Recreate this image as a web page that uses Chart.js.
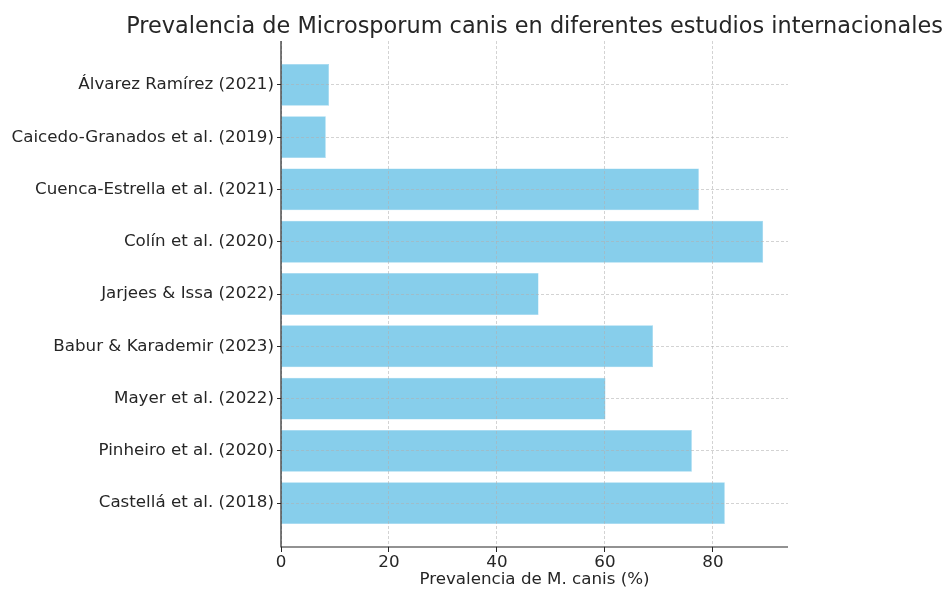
<!DOCTYPE html>
<html>
<head>
<meta charset="utf-8">
<script src="https://cdn.jsdelivr.net/npm/chart.js@4"></script>
<style>
  html, body { margin: 0; padding: 0; background: #fff; }
  #wrap { width: 945px; height: 590px; }
</style>
</head>
<body>
<div id="wrap"><canvas id="chart"></canvas></div>
<script>
// Data
const studies = [
    'Álvarez Ramírez (2021)',
    'Caicedo-Granados et al. (2019)',
    'Cuenca-Estrella et al. (2021)',
    'Colín et al. (2020)',
    'Jarjees & Issa (2022)',
    'Babur & Karademir (2023)',
    'Mayer et al. (2022)',
    'Pinheiro et al. (2020)',
    'Castellá et al. (2018)',
];
const prevalence = [8.9, 8.3, 77.4, 89.3, 47.7, 68.9, 60.1, 76.1, 82.2];
const xTicks = [0, 20, 40, 60, 80];

const chartTitle = 'Prevalencia de Microsporum canis en diferentes estudios internacionales';
const xTitle = 'Prevalencia de M. canis (%)';

const font = 'DejaVu Sans';
const textColor = '#262626';
const gridColor = 'rgba(176,176,176,0.7)';

// title centred over the plot area (it runs wider than it), plus solid spines
const extrasPlugin = {
    id: 'extras',
    afterDraw(chart) {
        const { ctx, chartArea } = chart;
        ctx.save();
        ctx.strokeStyle = textColor;
        ctx.lineWidth = 1.2;
        ctx.beginPath();
        ctx.moveTo(chartArea.left, chartArea.top);
        ctx.lineTo(chartArea.left, chartArea.bottom);
        ctx.lineTo(chartArea.right, chartArea.bottom);
        ctx.stroke();

        ctx.font = `22.4px "${font}"`;
        ctx.fillStyle = textColor;
        ctx.textAlign = 'center';
        ctx.textBaseline = 'alphabetic';
        ctx.fillText(chartTitle, (chartArea.left + chartArea.right) / 2, 33);
        ctx.restore();
    },
};

const ctx = document.getElementById('chart').getContext('2d');

const chart = new Chart(ctx, {
    type: 'bar',
    data: {
        datasets: [{
            data: prevalence.map((v, i) => ({ x: v, y: i })),
            backgroundColor: '#87CEEB',
            borderColor: '#9ad6ef',
            borderWidth: 0.5,
            barPercentage: 0.8,
            categoryPercentage: 1,
        }],
    },
    plugins: [extrasPlugin],
    options: {
        indexAxis: 'y',
        responsive: true,
        maintainAspectRatio: false,
        animation: false,
        layout: { padding: { left: 0, right: 157, top: 41, bottom: 0 } },
        plugins: {
            legend: { display: false },
            title: { display: false },
            tooltip: { enabled: false },
        },
        scales: {
            x: {
                type: 'linear',
                position: 'bottom',
                min: 0,
                max: 93.9,
                afterBuildTicks: (axis) => { axis.ticks = xTicks.map((v) => ({ value: v })); },
                afterFit: (axis) => { axis.height = 43; },
                grid: {
                    z: 1,
                    color: gridColor,
                    lineWidth: 0.8,
                    tickColor: textColor,
                    tickLength: 5,
                    tickWidth: 1,
                },
                border: { display: false, dash: [3, 2] },
                ticks: {
                    color: textColor,
                    font: { family: font, size: 16.7 },
                    padding: 1,
                    maxRotation: 0,
                },
                title: {
                    display: true,
                    text: xTitle,
                    color: textColor,
                    font: { family: font, size: 16.7 },
                    padding: { top: 0, bottom: 0 },
                },
            },
            y: {
                type: 'linear',
                position: 'left',
                reverse: true,
                offset: false,
                min: -0.84,
                max: 8.84,
                afterBuildTicks: (axis) => { axis.ticks = studies.map((s, i) => ({ value: i })); },
                afterFit: (axis) => { axis.width = 281; },
                grid: {
                    z: 1,
                    offset: false,
                    color: gridColor,
                    lineWidth: 0.8,
                    tickColor: textColor,
                    tickLength: 4,
                    tickWidth: 1,
                },
                border: { display: false, dash: [3, 2] },
                ticks: {
                    color: textColor,
                    font: { family: font, size: 16.7 },
                    padding: 3,
                    callback: (v) => studies[v],
                },
            },
        },
    },
});
</script>
</body>
</html>
